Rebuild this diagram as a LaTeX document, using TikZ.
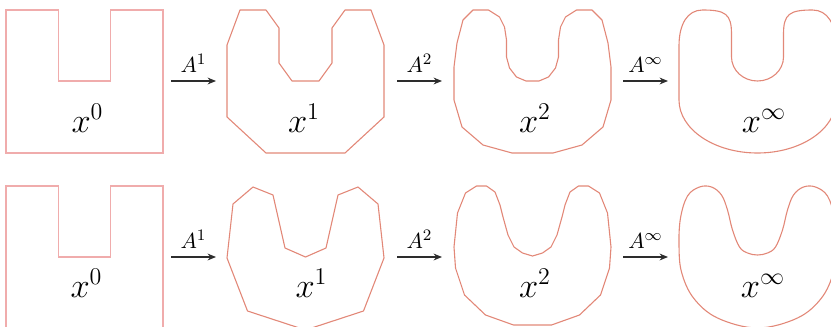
\documentclass[tikz,border=0pt]{standalone}
\usepackage{amsmath,amssymb}
\usepackage{tikz}
\usetikzlibrary{arrows.meta,positioning}
\usepackage{xcolor}
\definecolor{pinkline}{RGB}{240,172,172}
\definecolor{salmonline}{RGB}{226,136,120}
\definecolor{arrowgray}{RGB}{45,45,45}

\begin{document}
\begin{tikzpicture}[x=0.5pt,y=-0.5pt,
  initcontour/.style={draw=pinkline, line width=0.6pt},
  contour/.style={draw=salmonline, line width=0.55pt, line join=round},
  statelabel/.style={anchor=base, font=\fontsize{17.28}{20}\selectfont},
  oplabel/.style={above=0.5pt, font=\fontsize{10.95}{13}\selectfont},
  flow/.style={-{Stealth[length=4.2pt,width=3.4pt]}, draw=arrowgray, line width=0.65pt}]
  \useasboundingbox (0,0) rectangle (831,327);
  \clip (0,0) rectangle (831,327);

  % 形状 x^0 (上段・下段)
  \foreach \dy in {0,176} {
    \draw[initcontour, shift={(84.5,\dy)}] (-78.5,10) -- (-26,10) -- (-26,81) -- (26,81)
      -- (26,10) -- (78.5,10) -- (78.5,153) -- (-78.5,153) -- cycle;
  }

  % 形状 上段
  \draw[contour, shift={(305.5,0)}] (-65.5,10) -- (-39.5,10) -- (-26.5,28) -- (-26.5,63)
    -- (-13.5,81) -- (13.5,81) -- (26.5,63) -- (26.5,28) -- (39.5,10) -- (65.5,10)
    -- (78.5,45) -- (78.5,117) -- (39.5,153) -- (-39.5,153) -- (-78.5,117) -- (-78.5,45) -- cycle;
  \draw[contour, shift={(532.5,0)}] (-59.5,10) -- (-44,10) -- (-33,17) -- (-28,27) -- (-26,40)
    -- (-26,57) -- (-23,68) -- (-16,77) -- (-6.5,81) -- (6.5,81) -- (16,77) -- (23,68)
    -- (26,57) -- (26,40) -- (28,27) -- (33,17) -- (44,10) -- (59.5,10) -- (69.5,20)
    -- (75.5,43) -- (78.5,67) -- (78.5,100) -- (70.5,127) -- (49.5,145) -- (20.5,153)
    -- (-20.5,153) -- (-49.5,145) -- (-70.5,127) -- (-78.5,100) -- (-78.5,67)
    -- (-75.5,43) -- (-69.5,20) -- cycle;
  \draw[contour, shift={(757.5,0)}] (-78.5,100) -- (-78.5,46)
    .. controls (-78.5,24) and (-70,10) .. (-55,10)
    .. controls (-32,10) and (-26,14) .. (-26,34) -- (-26,57)
    .. controls (-26,70.25) and (-14.35,81) .. (0,81)
    .. controls (14.35,81) and (26,70.25) .. (26,57) -- (26,34)
    .. controls (26,14) and (32,10) .. (55,10)
    .. controls (70,10) and (78.5,24) .. (78.5,46) -- (78.5,100)
    .. controls (78.5,129.3) and (43.3,153) .. (0,153)
    .. controls (-43.3,153) and (-78.5,129.3) .. (-78.5,100) -- cycle;

  % 形状 下段
  \draw[contour, shift={(305.5,0)}] (-72.5,204) -- (-52.5,187) -- (-32.5,195) -- (-20.5,248)
    -- (0,257) -- (20.5,248) -- (32.5,195) -- (52.5,187) -- (72.5,204) -- (78.5,258)
    -- (58,311) -- (0,330) -- (-58,311) -- (-78.5,258) -- cycle;
  \draw[contour, shift={(532.5,0)}] (0,256) -- (10,253) -- (18.5,247) -- (24.5,235)
    -- (29.5,217) -- (32.5,205) -- (37.5,192) -- (46,186) -- (56,186) -- (67,193)
    -- (75,213) -- (78.5,247) -- (77,268) -- (68,295) -- (47,315) -- (19,325)
    -- (-19,325) -- (-47,315) -- (-68,295) -- (-77,268) -- (-78.5,247) -- (-75,213)
    -- (-67,193) -- (-56,186) -- (-46,186) -- (-37.5,192) -- (-32.5,205) -- (-29.5,217)
    -- (-24.5,235) -- (-18.5,247) -- (-10,253) -- cycle;
  \draw[contour, shift={(757.5,0)}] plot[smooth cycle, tension=0.6] coordinates {
    (0,255) (10,253) (18,247) (25,230) (30,210) (36,195) (46,187) (58,187) (70,196)
    (77,218) (78.5,245) (76,272) (64,298) (40,318) (0,328) (-40,318) (-64,298)
    (-76,272) (-78.5,245) (-77,218) (-70,196) (-58,187) (-46,187) (-36,195)
    (-30,210) (-25,230) (-18,247) (-10,253)};

  % ラベル
  \node[statelabel] (x0top) at (87.5,132) {$x^0$};
  \node[statelabel] (x1top) at (304,132) {$x^1$};
  \node[statelabel] (x2top) at (535,132) {$x^2$};
  \node[statelabel] (xinftop) at (764,132) {$x^\infty$};
  \node[statelabel] (x0bot) at (86.5,297) {$x^0$};
  \node[statelabel] (x1bot) at (311.5,297) {$x^1$};
  \node[statelabel] (x2bot) at (535,297) {$x^2$};
  \node[statelabel] (xinfbot) at (763,297) {$x^\infty$};

  % 矢印
  \coordinate (a1top-s) at (171,81);  \coordinate (a1top-e) at (216,81);
  \coordinate (a2top-s) at (397,81);  \coordinate (a2top-e) at (442,81);
  \coordinate (a3top-s) at (623,81);  \coordinate (a3top-e) at (668,81);
  \coordinate (a1bot-s) at (171,257); \coordinate (a1bot-e) at (216,257);
  \coordinate (a2bot-s) at (397,257); \coordinate (a2bot-e) at (442,257);
  \coordinate (a3bot-s) at (623,257); \coordinate (a3bot-e) at (668,257);
  \draw[flow] (a1top-s) -- node[oplabel] {$A^1$} (a1top-e);
  \draw[flow] (a2top-s) -- node[oplabel] {$A^2$} (a2top-e);
  \draw[flow] (a3top-s) -- node[oplabel] {$A^\infty$} (a3top-e);
  \draw[flow] (a1bot-s) -- node[oplabel] {$A^1$} (a1bot-e);
  \draw[flow] (a2bot-s) -- node[oplabel] {$A^2$} (a2bot-e);
  \draw[flow] (a3bot-s) -- node[oplabel] {$A^\infty$} (a3bot-e);
\end{tikzpicture}
\end{document}
